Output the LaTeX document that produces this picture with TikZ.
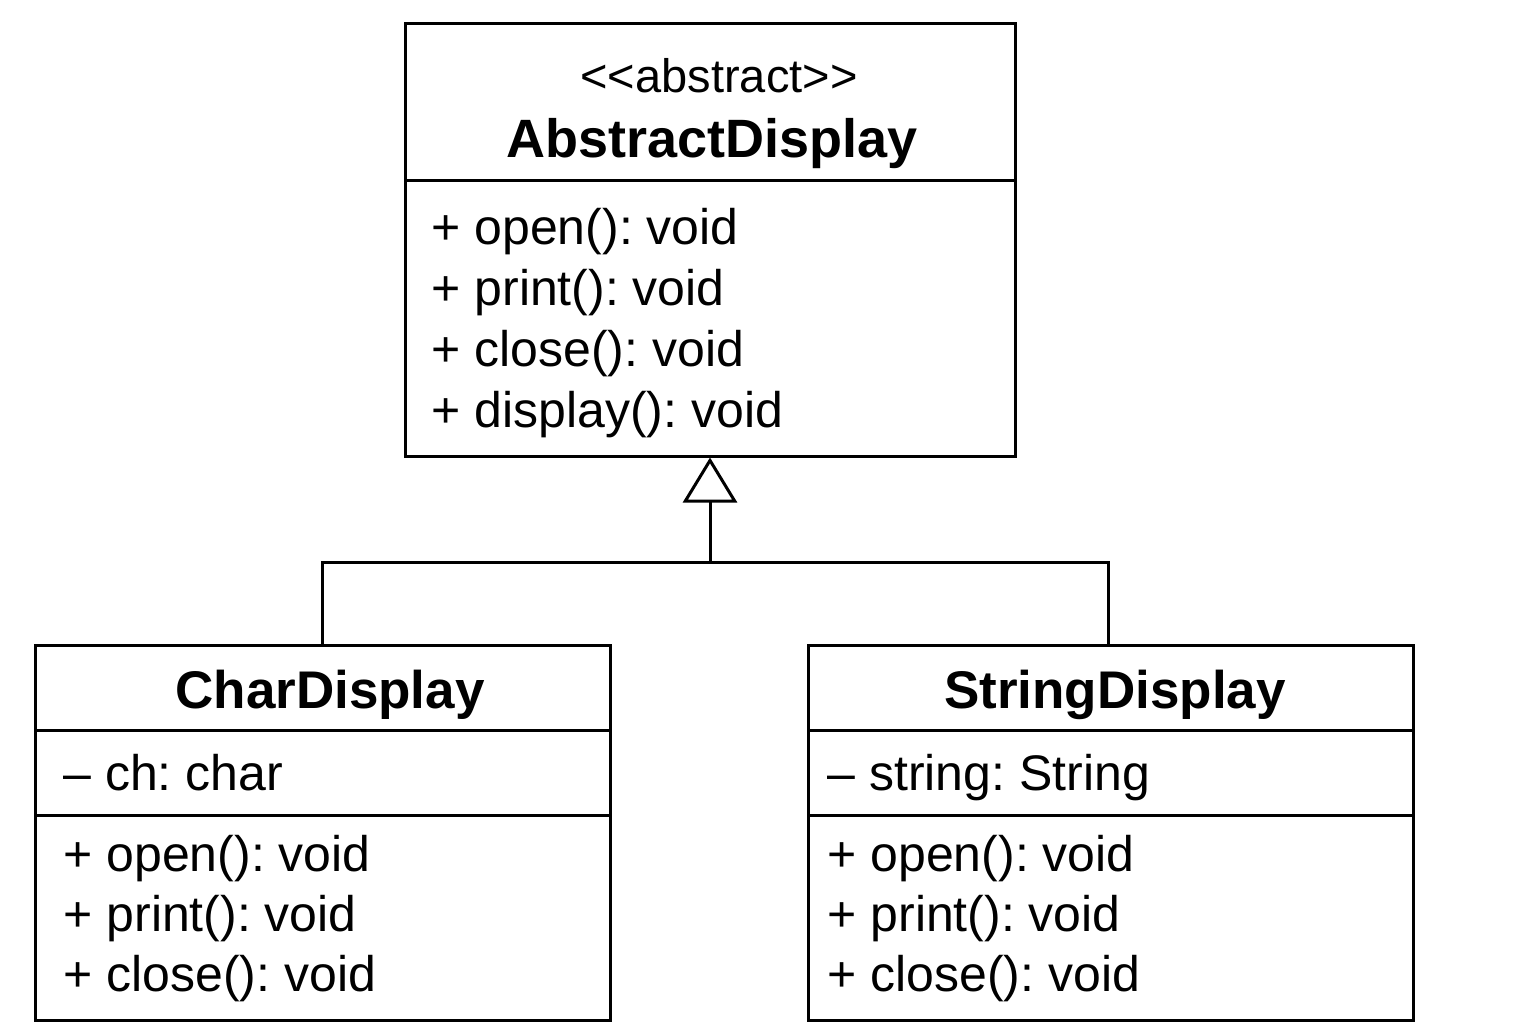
\documentclass[tikz,border=0pt]{standalone}
\usepackage{fontspec}
\setmainfont{Liberation Sans}
\usetikzlibrary{arrows.meta}
\frenchspacing
\begin{document}
\begin{tikzpicture}[x=0.5pt,y=-0.5pt,line width=1.5pt,
    class box/.style={draw,rectangle,inner sep=0pt},
    member/.style={anchor=base west,inner sep=0pt,font=\fontsize{25}{30}\selectfont},
    stereo/.style={anchor=base,inner sep=0pt,font=\fontsize{23.5}{28}\selectfont},
    class name/.style={anchor=base,inner sep=0pt,font=\fontsize{26.5}{32}\selectfont\bfseries},
    inherit/.style={-{Triangle[open,length=22.5pt,width=27pt,line width=1.5pt]}}]
    \useasboundingbox (0,0) rectangle (1536,1024);

    % classes
    \node[class box,minimum width=305pt,minimum height=216.5pt] at (710,239.5) (abs) {};
    \node[class box,minimum width=287.5pt,minimum height=187.5pt] at (322.5,832.5) (char) {};
    \node[class box,minimum width=302.5pt,minimum height=187.5pt] at (1110.5,832.5) (str) {};

    % compartments
    \draw (405,180) -- (1015,180);
    \draw (35,730) -- (610,730);
    \draw (35,815) -- (610,815);
    \draw (808,730) -- (1413,730);
    \draw (808,815) -- (1413,815);

    % AbstractDisplay
    \node[stereo] at (719,92) (absstereo) {<{}<abstract>{}>};
    \node[class name,font=\fontsize{27}{32}\selectfont\bfseries] at (712,157) (absname) {AbstractDisplay};
    \foreach \m [count=\i] in {open,print,close,display}
        \node[member] at (430,244+61*\i-61) (absop\i) {+ \m(): void};

    % CharDisplay
    \node[class name] at (330,708) (charname) {CharDisplay};
    \node[member] at (62,790) (charattr) {\textendash\ ch: char};
    \foreach \m [count=\i] in {open,print,close}
        \node[member] at (62,871+60*\i-60) (charop\i) {+ \m(): void};

    % StringDisplay
    \node[class name] at (1115,708) (strname) {StringDisplay};
    \node[member] at (826,790) (strattr) {\textendash\ string: String};
    \foreach \m [count=\i] in {open,print,close}
        \node[member] at (826,871+60*\i-60) (strop\i) {+ \m(): void};

    % generalization
    \coordinate (join) at (710,562);
    \draw (char.north) |- (join);
    \draw ([xshift=-1.25pt]str.north) |- (join);
    \draw[inherit] (join) -- (abs.south);
\end{tikzpicture}
\end{document}
